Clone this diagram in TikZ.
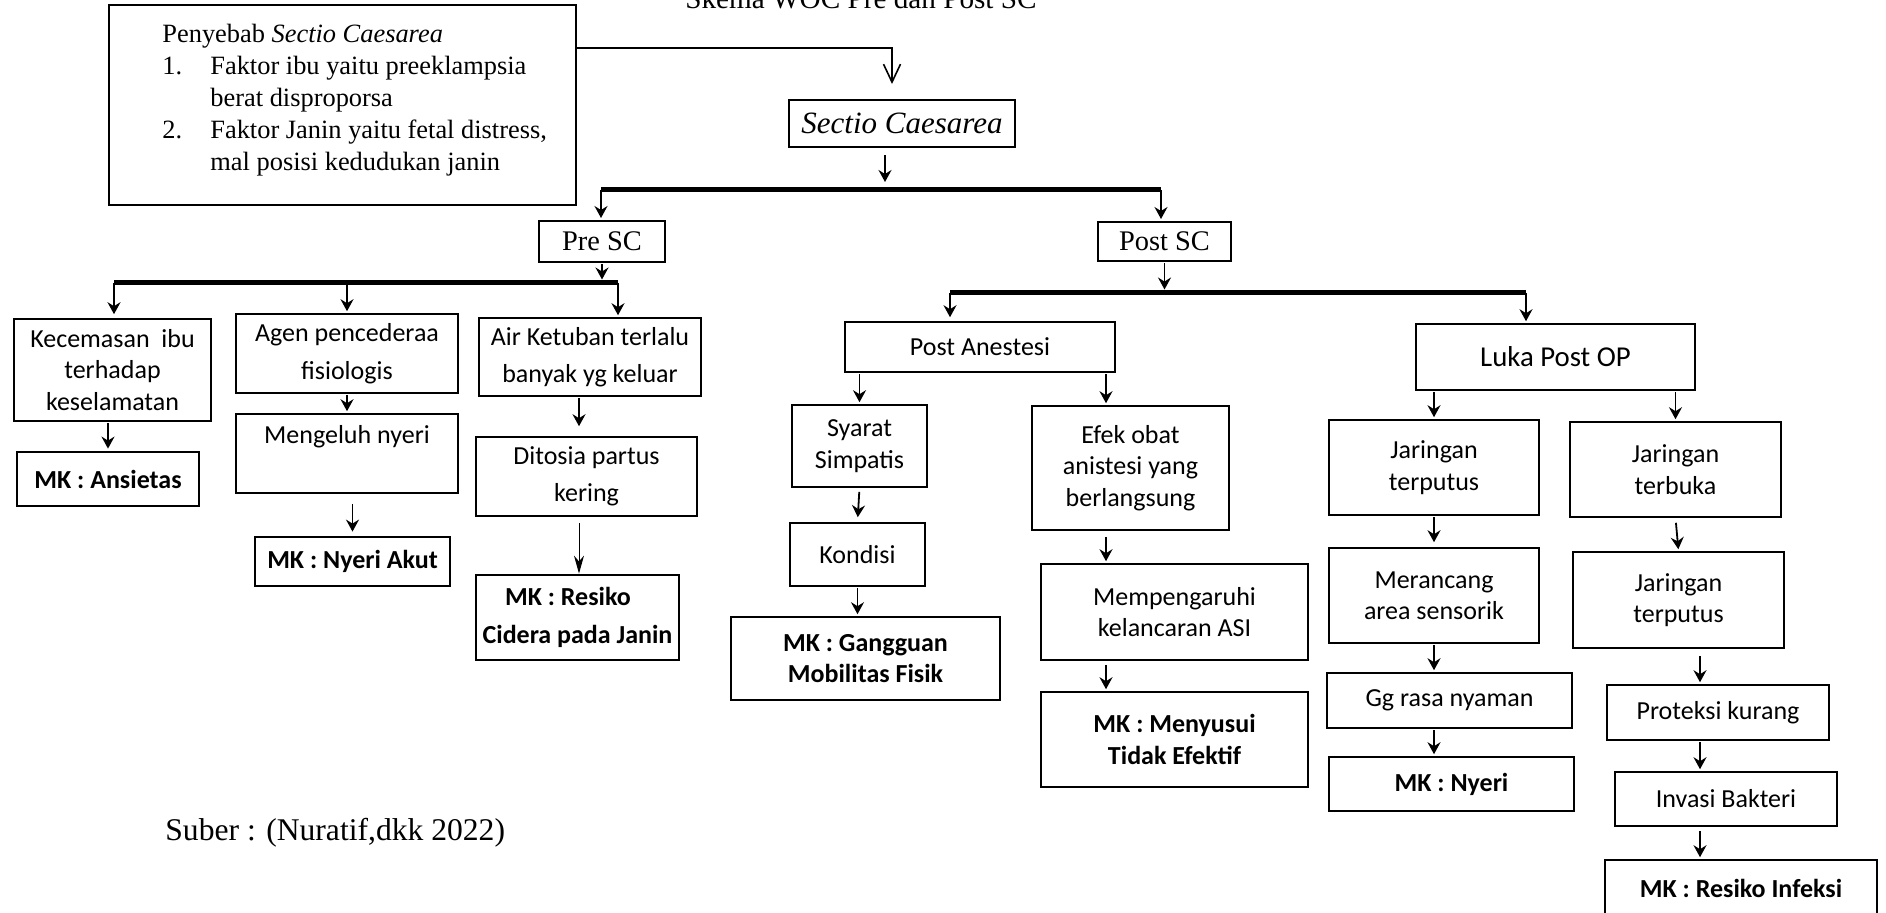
\documentclass[tikz,border=0pt]{standalone}
\usepackage{fontspec}
\setmainfont{Liberation Serif}
\newfontfamily\boxfont{Carlito}
\usetikzlibrary{arrows.meta}

\tikzset{
  box/.style={draw, line width=0.8pt, inner sep=2pt, align=center,
    font=\boxfont\fontsize{13}{15.75}\selectfont},
  loose/.style={font=\boxfont\fontsize{13}{18.75}\selectfont},
  mkbox/.style={box, line width=1.4pt, font=\boxfont\bfseries\fontsize{13}{15.75}\selectfont},
  mkrbox/.style={box, font=\boxfont\bfseries\fontsize{13}{15.75}\selectfont},
  scbox/.style={draw, line width=1pt, inner sep=2pt, font=\fontsize{14.2}{17}\selectfont},
  arr/.style={-{Stealth[length=6pt,width=6.5pt,inset=2pt]}, line width=0.9pt, shorten <=0.5pt, shorten >=1pt},
  thinarr/.style={-{Straight Barb[length=9pt,width=8.5pt]}, line width=0.8pt},
  longarr/.style={-{Stealth[length=9pt,width=5pt]}, line width=0.5pt},
  bar/.style={line width=2.5pt},
}

\begin{document}
\begin{tikzpicture}[x=0.5pt, y=-0.5pt]
    \useasboundingbox (0,0) rectangle (1886,912);

    % Judul (terpotong di atas)
    \node[anchor=base, inner sep=0pt, font=\fontsize{14.6}{17}\selectfont] (title) at (861,8) {Skema WOC Pre dan Post SC};

    % Penyebab
    \node[draw, line width=0.65pt, minimum width=233.5pt, minimum height=100pt] (cause) at (342.5,105) {};
    \node[anchor=north west, inner sep=0pt, align=left, font=\fontsize{13.2}{16}\selectfont] (causetxt) at (162,24) {Penyebab \textit{Sectio Caesarea}\\
      \makebox[24pt][l]{1.}Faktor ibu yaitu preeklampsia\\
      \hspace*{24pt}berat disproporsa\\
      \makebox[24pt][l]{2.}Faktor Janin yaitu fetal distress,\\
      \hspace*{24pt}mal posisi kedudukan janin};

    % Sectio Caesarea, Pre SC, Post SC
    \node[scbox, minimum width=113pt, minimum height=23.5pt, font=\itshape\fontsize{15.5}{18}\selectfont] (sectio) at (902,123.5) {Sectio Caesarea};
    \node[scbox, minimum width=63pt, minimum height=20.5pt] (presc) at (602,241.5) {Pre SC};
    \node[scbox, minimum width=66.5pt, minimum height=19.5pt] (postsc) at (1164.5,241.5) {Post SC};

    \coordinate (elbow) at (892,48);
    \coordinate (colsc) at (885,0);
    \coordinate (topbarL) at (601,189);
    \coordinate (topbarR) at (1161,189);

    \draw[thinarr, shorten >=7.5pt] (cause.east |- elbow) -- (elbow) -- (elbow |- sectio.north);
    \draw[arr, shorten <=3.5pt, shorten >=3.5pt] (sectio.south -| colsc) -- (topbarL -| colsc);
    \draw[bar] (topbarL) -- (topbarR);
    \draw[arr] (topbarL) -- (topbarL |- presc.north);
    \draw[arr] (topbarR) -- (topbarR |- postsc.north);

    % Pre SC
    \node[box, minimum width=98.5pt, minimum height=51pt] (kecemasan) at (112.5,370) {Kecemasan\ \ ibu\\terhadap\\keselamatan};
    \node[mkbox, minimum width=91pt, minimum height=27pt] (ansietas) at (108,479) {MK : Ansietas};
    \node[box, loose, minimum width=111pt, minimum height=39.5pt] (agen) at (347,353.5) {Agen pencederaa\\fisiologis};
    \node[box, loose, minimum width=111pt, minimum height=39.5pt] (mengeluh) at (347,453.5) {Mengeluh nyeri\\~};
    \node[mkbox, minimum width=97.5pt, minimum height=24.5pt] (nyeriakut) at (352.5,561.5) {MK : Nyeri Akut};
    \node[box, loose, minimum width=111pt, minimum height=39pt] (air) at (590,357) {Air Ketuban terlalu\\banyak yg keluar};
    \node[box, loose, minimum width=110.5pt, minimum height=39.5pt] (ditosia) at (586.5,476.5) {Ditosia partus\\kering};
    \node[mkbox, minimum width=101.5pt, minimum height=42.5pt, font=\boxfont\bfseries\fontsize{13}{18.75}\selectfont] (cidera) at (577.5,617.5) {MK : Resiko\phantom{iii}\\Cidera pada Janin};

    \coordinate (prebarL) at (114,282);
    \coordinate (prebarR) at (618,282);
    \coordinate (colair) at (579,0);

    \draw[arr, shorten >=1.25pt] (presc.south) -- (presc.south |- prebarL);
    \draw[bar] (prebarL) -- (prebarR);
    \draw[arr, shorten >=2pt] (prebarL) -- (prebarL |- kecemasan.north);
    \draw[arr] (agen.north |- prebarL) -- (agen.north);
    \draw[arr] (prebarR) -- (prebarR |- air.north);
    \draw[arr] (ansietas.north |- kecemasan.south) -- (ansietas.north);
    \draw[arr] (agen.south) -- (mengeluh.north);
    \draw[arr, shorten <=5pt, shorten >=2pt] (nyeriakut.north |- mengeluh.south) -- (nyeriakut.north);
    \draw[arr, shorten >=5pt] (air.south -| colair) -- (ditosia.north -| colair);
    \draw[longarr, shorten <=3pt] (ditosia.south -| colair) -- (cidera.north -| colair);

    % Post SC
    \node[box, minimum width=135pt, minimum height=25pt] (postan) at (980,347) {Post Anestesi};
    \node[box, minimum width=67.5pt, minimum height=41pt] (syarat) at (859.5,446) {Syarat\\Simpatis};
    \node[box, minimum width=67.5pt, minimum height=31.5pt] (kondisi) at (857.5,554.5) {Kondisi};
    \node[mkrbox, minimum width=134.5pt, minimum height=41.5pt] (gangguan) at (865.5,658.5) {MK : Gangguan\\Mobilitas Fisik};
    \node[box, minimum width=98.5pt, minimum height=62pt] (efek) at (1130.5,468) {Efek obat\\anistesi yang\\berlangsung};
    \node[box, minimum width=133.5pt, minimum height=48pt] (mempeng) at (1174.5,612) {Mempengaruhi\\kelancaran ASI};
    \node[mkrbox, minimum width=133.5pt, minimum height=47.5pt] (menyusui) at (1174.5,739.5) {MK : Menyusui\\Tidak Efektif};

    \node[box, minimum width=139.5pt, minimum height=33pt, font=\boxfont\fontsize{14.4}{17}\selectfont] (luka) at (1555.5,357) {Luka Post OP};
    \node[box, minimum width=105pt, minimum height=47.5pt] (jarL) at (1434,467.5) {Jaringan\\terputus};
    \node[box, minimum width=105pt, minimum height=47.5pt] (merancang) at (1434,595.5) {Merancang\\area sensorik};
    \node[box, minimum width=122.5pt, minimum height=27.5pt] (gg) at (1449.5,700.5) {Gg rasa nyaman};
    \node[mkrbox, minimum width=122.5pt, minimum height=27pt] (nyeri) at (1451.5,784) {MK : Nyeri};
    \node[box, minimum width=105.5pt, minimum height=47.5pt] (jarR) at (1675.5,469.5) {Jaringan\\terbuka};
    \node[box, minimum width=105.5pt, minimum height=48pt] (jarR2) at (1678.5,600) {Jaringan\\terputus};
    \node[box, minimum width=111pt, minimum height=27.5pt] (proteksi) at (1718,712.5) {Proteksi kurang};
    \node[box, minimum width=111pt, minimum height=27pt] (invasi) at (1726,799) {Invasi Bakteri};
    \node[mkrbox, minimum width=136pt, minimum height=28pt] (infeksi) at (1741,888) {MK : Resiko Infeksi};

    \coordinate (postbarL) at (950,292);
    \coordinate (postbarR) at (1526,292);
    \coordinate (colefek) at (1106,0);
    \coordinate (colinf) at (1700,0);

    \draw[arr, shorten >=1.25pt] (postsc.south) -- (postsc.south |- postbarL);
    \draw[bar] (postbarL) -- (postbarR);
    \draw[arr, shorten >=2pt] (postbarL) -- (postbarL |- postan.north);
    \draw[arr] (postbarR) -- (postbarR |- luka.north);
    \draw[arr] (syarat.north |- postan.south) -- (syarat.north);
    \draw[arr] (postan.south -| colefek) -- (efek.north -| colefek);
    \draw[arr, shorten <=2pt, shorten >=2.5pt] (syarat.south) -- (kondisi.north);
    \draw[arr] (kondisi.south) -- (kondisi.south |- gangguan.north);
    \draw[arr, shorten <=3pt] (efek.south -| colefek) -- (mempeng.north -| colefek);
    \draw[arr, shorten <=2pt] (mempeng.south -| colefek) -- (menyusui.north -| colefek);

    \draw[arr] (jarL.north |- luka.south) -- (jarL.north);
    \draw[arr] (jarR.north |- luka.south) -- (jarR.north);
    \draw[arr, shorten >=2.5pt] (jarL.south) -- (merancang.north);
    \draw[arr] (merancang.south) -- (merancang.south |- gg.north);
    \draw[arr] (gg.south -| merancang.south) -- (nyeri.north -| merancang.south);
    \draw[arr, shorten <=2.5pt] (jarR.south) -- (jarR2.north);
    \draw[arr, shorten <=3.5pt] (jarR2.south -| colinf) -- (proteksi.north -| colinf);
    \draw[arr] (proteksi.south -| colinf) -- (invasi.north -| colinf);
    \draw[arr, shorten <=2pt] (invasi.south -| colinf) -- (infeksi.north -| colinf);

    % Sumber
    \node[anchor=west, inner sep=0pt, font=\fontsize{15.8}{19}\selectfont] (sumber) at (165,833) {Suber : (Nuratif,dkk 2022)};
\end{tikzpicture}
\end{document}
